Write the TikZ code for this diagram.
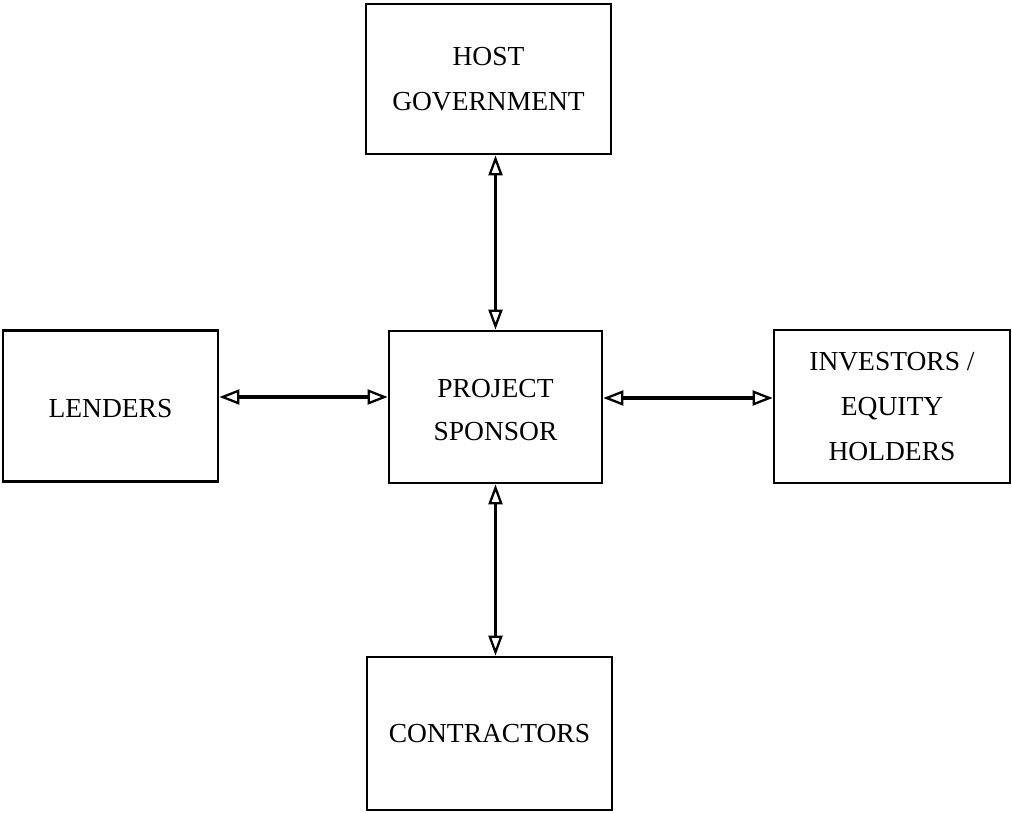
\documentclass[tikz,border=0pt]{standalone}
\usepackage{fontspec}
\setmainfont{Liberation Serif}
\usetikzlibrary{arrows.meta}
\newcommand{\lowered}[1]{\raisebox{-3pt}[\height][\depth]{#1}}
\begin{document}
\begin{tikzpicture}[x=1pt,y=1pt,
  party/.style={draw,line width=2.8pt,inner sep=0pt,align=center,
    font=\fontsize{27.5}{45}\selectfont},
  link/.style={draw,line width=3.1pt,>={Triangle[open,length=20pt,width=15pt,line width=2.3pt]},<->},
  vlink/.style={draw,line width=2.3pt,>={Triangle[open,length=20pt,width=14pt,line width=2.3pt]},<->}]
\useasboundingbox (0,0) rectangle (1012,812);
% the five parties
\node[party,minimum width=245pt,minimum height=150pt] (host) at (488.5,733) {HOST\\GOVERNMENT};
\node[party,minimum width=215pt,minimum height=151pt] (lenders) at (110.5,406) {\lowered{LENDERS}};
\node[party,minimum width=213pt,minimum height=152pt,font=\fontsize{27.5}{43}\selectfont] (sponsor) at (495.5,405) {\lowered{PROJECT}\\\lowered{SPONSOR}};
\node[party,minimum width=236pt,minimum height=153pt] (investors) at (892,405.5) {INVESTORS /\\EQUITY\\HOLDERS};
\node[party,minimum width=245pt,minimum height=153pt] (contractors) at (489.5,78.5) {CONTRACTORS};
% two-way relationships with the sponsor
\path[vlink] (sponsor.north) -- (sponsor.north |- host.south);
\path[vlink] (sponsor.south) -- (sponsor.south |- contractors.north);
\path[link] ([yshift=9pt]lenders.east) -- ([yshift=9pt]lenders.east -| sponsor.west);
\path[link] ([yshift=9pt]sponsor.east) -- ([yshift=9pt]sponsor.east -| investors.west);
\end{tikzpicture}
\end{document}
